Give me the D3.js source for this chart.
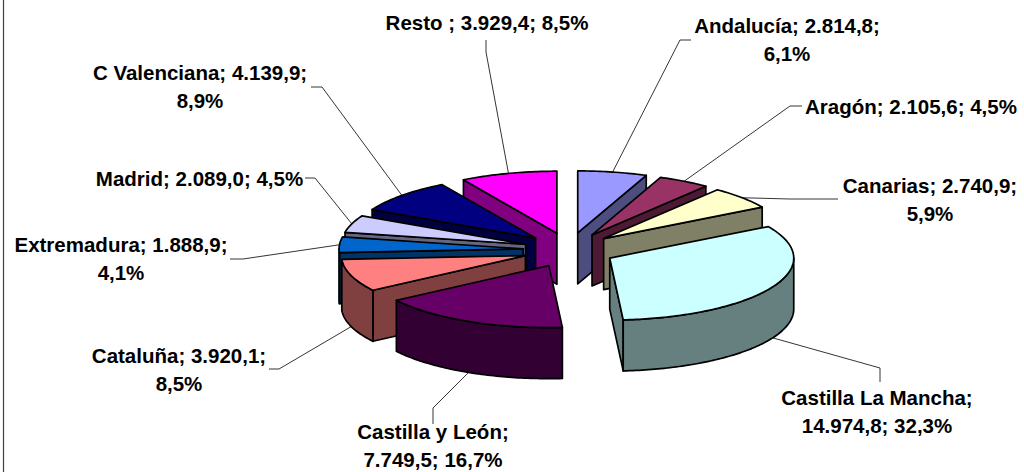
<!DOCTYPE html>
<html>
<head>
<meta charset="utf-8">
<script src="https://cdn.jsdelivr.net/npm/d3@7"></script>
<style>
html,body{margin:0;padding:0;background:#fff;overflow:hidden}
svg{display:block}
text{font-family:"Liberation Sans",Arial,sans-serif;font-weight:700;font-size:20.5px;fill:#000;text-anchor:middle}
</style>
</head>
<body>
<script>
// Data
const categories = ["Andalucía","Aragón","Canarias","Castilla La Mancha","Castilla y León","Cataluña","Extremadura","Madrid","C Valenciana","Resto "];
const values = [2814.8,2105.6,2740.9,14974.8,7749.5,3920.1,1888.9,2089.0,4139.9,3929.4];
const valueLabels = ["2.814,8","2.105,6","2.740,9","14.974,8","7.749,5","3.920,1","1.888,9","2.089,0","4.139,9","3.929,4"];
const percentLabels = ["6,1%","4,5%","5,9%","32,3%","16,7%","8,5%","4,1%","4,5%","8,9%","8,5%"];
const topColors = ["#9999FF","#993366","#FFFFCC","#CCFFFF","#660066","#FF8080","#0066CC","#CCCCFF","#000080","#FF00FF"];
const sideColors = ["#4D4D80","#4D1A33","#808066","#668080","#330033","#804040","#003366","#666680","#000040","#800080"];

// Layout: label line breaks (how many label parts on first line), centres and elbows
const labelLayout = [
  {first:2, x:787, y:33, elbow:[[691,40],[680,40]]},
  {first:3, x:911, y:114, elbow:[[802,106],[790,106]]},
  {first:2, x:930, y:193, elbow:[[838,199],[790,199]]},
  {first:1, x:877, y:405, elbow:[[880,382],[880,368]]},
  {first:1, x:433, y:439, elbow:[[433,424],[433,408]]},
  {first:2, x:179, y:363, elbow:[[269,369],[279,369]]},
  {first:2, x:121, y:252, elbow:[[230,259],[243,259]]},
  {first:3, x:199.5, y:186, elbow:[[305,178],[315,178]]},
  {first:2, x:200, y:80, elbow:[[311,87],[322,87]]},
  {first:3, x:487, y:30, elbow:[[486,40],[486,52]]}
];
const lineGap = 28;

const W = 1024, H = 472;
const cx = 569, cy = 250, radX = 184, radY = 62, depth = 51, explodeX = 46, explodeY = 17.4;

const svg = d3.select("body").append("svg").attr("width",W).attr("height",H);

// left edge of the chart frame
svg.append("line").attr("x1",3.5).attr("x2",3.5).attr("y1",0).attr("y2",H)
   .attr("stroke","#404040").attr("stroke-width",1.2);

const pie = d3.pie().sort(null).startAngle(0).endAngle(2*Math.PI);
const arcs = pie(values).map((d,i)=>{
  const mid=(d.startAngle+d.endAngle)/2;
  return {i,start:d.startAngle,end:d.endAngle,mid,
    ax:cx+explodeX*Math.sin(mid), ay:cy-explodeY*Math.cos(mid)};
});

const rim=(s,t,dz=0)=>[s.ax+radX*Math.sin(t), s.ay-radY*Math.cos(t)+dz];
const apex=(s,dz=0)=>[s.ax,s.ay+dz];
const line=d3.line();
const closed=pts=>line(pts)+"Z";
const sweep=(a,b,dz=0,s)=>{
  const n=Math.max(2,Math.ceil((b-a)/(Math.PI/180))), out=[];
  for(let k=0;k<=n;k++) out.push(rim(s,a+(b-a)*k/n,dz));
  return out;
};

const order=arcs.slice().sort((p,q)=>Math.cos(q.mid)-Math.cos(p.mid));
const g=svg.append("g").attr("stroke","#000").attr("stroke-width",1.7).attr("stroke-linejoin","round");

order.forEach(s=>{
  const side=sideColors[s.i], top=topColors[s.i];
  const face=(t)=>closed([apex(s),rim(s,t),rim(s,t,depth),apex(s,depth)]);
  const p0=rim(s,s.start), p1=rim(s,s.end);
  const startVisible=(p0[0]-s.ax)<0;
  const endVisible=(p1[0]-s.ax)>0;
  if(startVisible) g.append("path").attr("d",face(s.start)).attr("fill",side);
  if(endVisible) g.append("path").attr("d",face(s.end)).attr("fill",side);
  // outer wall: front half only
  const a=Math.max(s.start,Math.PI/2), b=Math.min(s.end,3*Math.PI/2);
  if(b>a){
    g.append("path").attr("fill",side)
      .attr("d",closed(sweep(a,b,0,s).concat(sweep(a,b,depth,s).reverse())));
  }
  // top
  g.append("path").attr("fill",top)
    .attr("d",closed([apex(s)].concat(sweep(s.start,s.end,0,s))));
});

// leaders and labels
const leaders=svg.append("g").attr("fill","none").attr("stroke","#000").attr("stroke-width",0.8);
const labels=svg.append("g");
arcs.forEach(s=>{
  const L=labelLayout[s.i];
  const front=Math.cos(s.mid)<0;
  const end=rim(s,s.mid,front?depth:0);
  leaders.append("path").attr("d",line(L.elbow.concat([end])));
  const parts=[categories[s.i]+";", valueLabels[s.i]+";", percentLabels[s.i]];
  const l1=parts.slice(0,L.first).join(" "), l2=parts.slice(L.first).join(" ");
  labels.append("text").attr("x",L.x).attr("y",L.y).text(l1);
  if(l2) labels.append("text").attr("x",L.x).attr("y",L.y+lineGap).text(l2);
});
</script>
</body>
</html>
